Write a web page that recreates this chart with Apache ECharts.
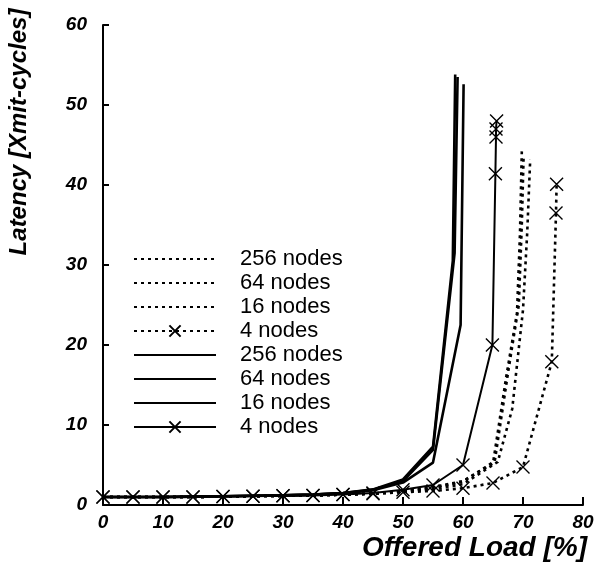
<!DOCTYPE html>
<html>
    <head>
        <meta charset="UTF-8">
        <script src="https://cdn.jsdelivr.net/npm/echarts@6/dist/echarts.min.js"></script>
    </head>
    <body style="margin:0">
        <div id="main" style="width:608px;height:569px"></div>
        <script type="text/javascript">
            // offered load [%] and latency [xmit-cycles] per curve
            var solid256X = [0,5,10,15,20,25,30,35,40,45,50,55,58.3,58.7];
            var solid256Y = [1.0,1.0,1.0,1.05,1.1,1.15,1.2,1.3,1.5,1.95,3.2,7.3,30.5,53.8];
            var solid64X = [0,5,10,15,20,25,30,35,40,45,50,55,58.6,59.1];
            var solid64Y = [1.0,1.0,1.0,1.05,1.1,1.15,1.2,1.3,1.5,1.9,3.0,6.9,31.5,53.5];
            var solid16X = [0,5,10,15,20,25,30,35,40,45,50,55,59.6,60.1];
            var solid16Y = [1.0,1.0,1.0,1.05,1.1,1.15,1.2,1.3,1.45,1.85,2.8,5.3,22.5,52.6];
            var solid4X = [0,5,10,15,20,25,30,35,40,45,50,55,60,64.9,65.4,65.5,65.5,65.6];
            var solid4Y = [1.0,1.0,1.0,1.0,1.05,1.1,1.15,1.2,1.3,1.5,1.9,2.5,5.0,20.0,41.4,46.0,47.0,48.0];

            var dot256X = [0,5,10,15,20,25,30,35,40,45,50,55,60,65,67.2,69.0,69.5,69.8];
            var dot256Y = [1.0,1.0,1.0,1.0,1.05,1.1,1.15,1.2,1.3,1.45,1.7,2.2,3.0,5.2,16,24,34,44.2];
            var dot64X = [0,5,10,15,20,25,30,35,40,45,50,55,60,65.3,67.5,69.3,69.8,70.1];
            var dot64Y = [1.0,1.0,1.0,1.0,1.05,1.1,1.15,1.2,1.3,1.45,1.7,2.2,2.9,5.5,16.5,25,35,43.6];
            var dot16X = [0,5,10,15,20,25,30,35,40,45,50,55,60,65.8,68.2,70.0,70.7,71.2];
            var dot16Y = [1.0,1.0,1.0,1.0,1.05,1.1,1.15,1.2,1.3,1.4,1.65,2.0,2.6,5.4,12,24.4,34,43.2];
            var dot4X = [0,5,10,15,20,25,30,35,40,45,50,55,60,65,70,74.8,75.5,75.6];
            var dot4Y = [1.0,1.0,1.0,1.0,1.05,1.1,1.15,1.2,1.3,1.4,1.6,1.75,2.1,2.75,4.75,17.9,36.5,40.1];

            var legendLabels = {
                d256: '256 nodes', d64: '64 nodes', d16: '16 nodes', d4: '4 nodes',
                s256: '256 nodes', s64: '64 nodes', s16: '16 nodes', s4: '4 nodes'
            };

            var font = 'Liberation Sans, Arial, sans-serif';
            var cross = 'path://M0,0L10,10M10,0L0,10';

            function zip(xs, ys) {
                return xs.map(function(x, i) { return [x, ys[i]]; });
            }

            function makeSeries(id, xs, ys, dotted, marked) {
                return {
                    name: id,
                    type: 'line',
                    data: zip(xs, ys),
                    clip: false,
                    symbol: marked ? cross : 'circle',
                    symbolSize: 13,
                    showSymbol: marked,
                    // unmarked curves get an invisible symbol so the legend shows only the line
                    itemStyle: marked
                        ? { color: 'transparent', borderColor: '#000', borderWidth: 1.4 }
                        : { color: 'transparent', borderColor: 'transparent', borderWidth: 0 },
                    lineStyle: {
                        color: '#000',
                        width: dotted ? 2.6 : (marked ? 2 : 2.6),
                        type: dotted ? [3, 4] : 'solid'
                    },
                    emphasis: { disabled: true },
                    z: dotted ? 2 : 3
                };
            }

            var myChart = echarts.init(document.getElementById('main'));

            var option = {
                animation: false,
                backgroundColor: '#fff',
                grid: { left: 103, right: 25, top: 25, bottom: 64 },
                xAxis: {
                    type: 'value', min: 0, max: 80, interval: 10,
                    axisLine: { lineStyle: { color: '#000', width: 2 } },
                    axisTick: { inside: true, length: 8, lineStyle: { color: '#000', width: 2 } },
                    axisLabel: { color: '#000', fontFamily: font, fontSize: 19, fontWeight: 'bold', fontStyle: 'italic', margin: 8 },
                    splitLine: { show: false }
                },
                yAxis: {
                    type: 'value', min: 0, max: 60, interval: 10,
                    axisLine: { show: true, lineStyle: { color: '#000', width: 2 } },
                    axisTick: { show: true, inside: true, length: 6, lineStyle: { color: '#000', width: 2 } },
                    axisLabel: { color: '#000', fontFamily: font, fontSize: 19, fontWeight: 'bold', fontStyle: 'italic', margin: 16 },
                    splitLine: { show: false }
                },
                legend: {
                    left: 128, top: 242, orient: 'vertical',
                    itemWidth: 82, itemHeight: 14, itemGap: 0,
                    selectedMode: false,
                    data: ['d256','d64','d16','d4','s256','s64','s16','s4'],
                    formatter: function(name) { return legendLabels[name]; },
                    textStyle: { color: '#000', fontFamily: font, fontSize: 22, lineHeight: 24, padding: [0, 0, 0, 19] }
                },
                graphic: [
                    {
                        type: 'text', x: 19, y: 132, rotation: Math.PI / 2,
                        style: { text: 'Latency [Xmit-cycles]', font: 'italic bold 24px ' + font, fill: '#000', textAlign: 'center', textVerticalAlign: 'middle' }
                    },
                    {
                        type: 'text', x: 587, y: 548,
                        style: { text: 'Offered Load [%]', font: 'italic bold 28px ' + font, fill: '#000', textAlign: 'right', textVerticalAlign: 'middle' }
                    }
                ],
                series: [
                    makeSeries('d256', dot256X, dot256Y, true, false),
                    makeSeries('d64', dot64X, dot64Y, true, false),
                    makeSeries('d16', dot16X, dot16Y, true, false),
                    makeSeries('d4', dot4X, dot4Y, true, true),
                    makeSeries('s256', solid256X, solid256Y, false, false),
                    makeSeries('s64', solid64X, solid64Y, false, false),
                    makeSeries('s16', solid16X, solid16Y, false, false),
                    makeSeries('s4', solid4X, solid4Y, false, true)
                ]
            };

            option && myChart.setOption(option);
        </script>
    </body>
</html>
